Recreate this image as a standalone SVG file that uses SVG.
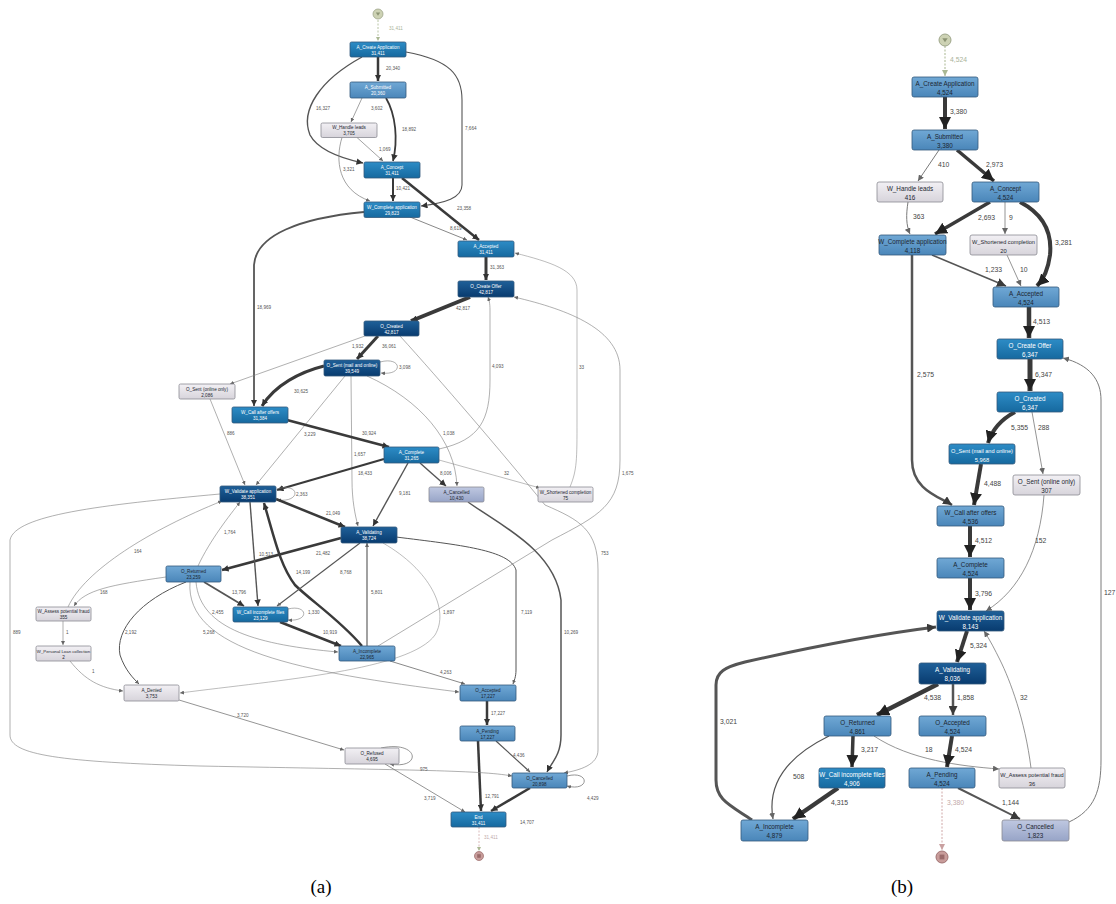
<svg xmlns="http://www.w3.org/2000/svg" width="1116" height="904" viewBox="0 0 1116 904">
<style>
text{font-family:"Liberation Sans",Arial,sans-serif}
.nd{stroke:#34597c;stroke-width:0.8}
.ndl{stroke:#8a8a92;stroke-width:0.8}
.dk{fill:url(#gDark)}.br{fill:url(#gBright)}.md{fill:url(#gMed)}.lt{fill:url(#gLight)}.lv{fill:url(#gLav)}
.ta{font-size:4.6px;text-anchor:middle}
.tb{font-size:6.3px;text-anchor:middle}
.w{fill:#ffffff}.k{fill:#1c2630}
.la{font-size:4.6px;fill:#555}
.lb{font-size:6.8px;fill:#444}
.e{fill:none;stroke:#7a7a7a}
.e1{fill:none;stroke:#555}
.e2{fill:none;stroke:#3a3a3a}
.dg{fill:none;stroke:#b8c4a4;stroke-dasharray:2,1.5}
.dp{fill:none;stroke:#d0a8a8;stroke-dasharray:2,1.5}
</style>
<defs>
<linearGradient id="gDark" x1="0" y1="0" x2="0" y2="1"><stop offset="0" stop-color="#1f6099"/><stop offset="1" stop-color="#083b6f"/></linearGradient>
<linearGradient id="gBright" x1="0" y1="0" x2="0" y2="1"><stop offset="0" stop-color="#2d8cc6"/><stop offset="1" stop-color="#16699f"/></linearGradient>
<linearGradient id="gMed" x1="0" y1="0" x2="0" y2="1"><stop offset="0" stop-color="#70a8d5"/><stop offset="1" stop-color="#4a86b9"/></linearGradient>
<linearGradient id="gLight" x1="0" y1="0" x2="0" y2="1"><stop offset="0" stop-color="#f2f0f4"/><stop offset="1" stop-color="#d7d4db"/></linearGradient>
<linearGradient id="gLav" x1="0" y1="0" x2="0" y2="1"><stop offset="0" stop-color="#bfc8e1"/><stop offset="1" stop-color="#97a4c7"/></linearGradient>
<marker id="a1" viewBox="0 0 10 10" refX="10" refY="5" markerWidth="4" markerHeight="4" markerUnits="userSpaceOnUse" orient="auto"><path d="M0,0L10,5L0,10z" fill="#666"/></marker>
<marker id="a2" viewBox="0 0 10 10" refX="10" refY="5" markerWidth="6.5" markerHeight="6.5" markerUnits="userSpaceOnUse" orient="auto"><path d="M0,0L10,5L0,10z" fill="#333"/></marker>
<marker id="b1" viewBox="0 0 10 10" refX="10" refY="5" markerWidth="6" markerHeight="6" markerUnits="userSpaceOnUse" orient="auto"><path d="M0,0L10,5L0,10z" fill="#666"/></marker>
<marker id="b2" viewBox="0 0 10 10" refX="10" refY="5" markerWidth="9" markerHeight="9" markerUnits="userSpaceOnUse" orient="auto"><path d="M0,0L10,5L0,10z" fill="#3a3a3a"/></marker>
<marker id="b3" viewBox="0 0 10 10" refX="10" refY="5" markerWidth="12" markerHeight="12" markerUnits="userSpaceOnUse" orient="auto"><path d="M0,0L10,5L0,10z" fill="#222"/></marker>
<marker id="ag" viewBox="0 0 10 10" refX="10" refY="5" markerWidth="4" markerHeight="4" markerUnits="userSpaceOnUse" orient="auto"><path d="M0,0L10,5L0,10z" fill="#aab894"/></marker>
<marker id="bg" viewBox="0 0 10 10" refX="10" refY="5" markerWidth="6" markerHeight="6" markerUnits="userSpaceOnUse" orient="auto"><path d="M0,0L10,5L0,10z" fill="#aab894"/></marker>
<marker id="bp" viewBox="0 0 10 10" refX="10" refY="5" markerWidth="6" markerHeight="6" markerUnits="userSpaceOnUse" orient="auto"><path d="M0,0L10,5L0,10z" fill="#c9a0a0"/></marker>
</defs>
<rect width="1116" height="904" fill="#ffffff"/>

<g id="connectors-a">
<path class="dg" d="M378,20 L378,41" marker-end="url(#ag)"/>
<text class="la" x="389" y="30" style="fill:#aab49a">31,411</text>
<path class="e2" stroke-width="2.5" d="M378,57 L378,81" marker-end="url(#a2)"/><text class="la" x="386" y="70">20,340</text>
<path class="e1" stroke-width="1.4" d="M362,57 C320,80 300,110 310,135 C318,150 340,158 363,163" marker-end="url(#a2)"/><text class="la" x="316" y="110">16,327</text>
<path class="e1" stroke-width="1.1" d="M406,52 C450,60 462,75 462,100 L462,185 C462,198 445,203 421,206" marker-end="url(#a2)"/><text class="la" x="465" y="130">7,664</text>
<path class="e" stroke-width="0.7" d="M362,98 L351,122" marker-end="url(#a1)"/><text class="la" x="371" y="110">3,602</text>
<path class="e2" stroke-width="1.8" d="M386,98 C396,115 398,140 393,161" marker-end="url(#a2)"/><text class="la" x="402" y="131">18,892</text>
<path class="e" stroke-width="0.7" d="M357,137.5 L383,161" marker-end="url(#a1)"/><text class="la" x="379" y="151">1,069</text>
<path class="e" stroke-width="0.7" d="M342,137.5 C335,160 338,190 370,201" marker-end="url(#a1)"/><text class="la" x="343" y="171">3,321</text>
<path class="e2" stroke-width="2" d="M393,178 L393,201" marker-end="url(#a2)"/><text class="la" x="396" y="190">10,421</text>
<path class="e2" stroke-width="2.5" d="M402,178 L479,240" marker-end="url(#a2)"/><text class="la" x="457" y="210">23,358</text>
<path class="e" stroke-width="0.9" d="M410,217 L467,240" marker-end="url(#a1)"/><text class="la" x="450" y="230">8,619</text>
<path class="e1" stroke-width="1.8" d="M364,212 C300,218 256,235 254,265 L254,406" marker-end="url(#a2)"/><text class="la" x="257" y="309">18,969</text>
<path class="e2" stroke-width="3" d="M486,257 L486,280" marker-end="url(#a2)"/><text class="la" x="490" y="269">31,363</text>
<path class="e2" stroke-width="4" d="M470,297 L411,321" marker-end="url(#a2)"/><text class="la" x="456" y="310">42,817</text>
<path class="e2" stroke-width="3" d="M378,336 L357,359" marker-end="url(#a2)"/><text class="la" x="382" y="348">36,061</text>
<path class="e" stroke-width="0.6" d="M365,336 L230,384" marker-end="url(#a1)"/><text class="la" x="352" y="348">1,932</text>
<path class="e" stroke-width="0.6" d="M400,336 C440,380 500,450 545,505 C580,520 598,530 598,570 L598,750 C598,765 580,770 564,773" marker-end="url(#a1)"/><text class="la" x="601" y="555">753</text>
<path class="e" stroke-width="0.6" d="M380,362 C402,356 404,376 381,373" marker-end="url(#a1)"/><text class="la" x="399" y="369">3,098</text>
<path class="e2" stroke-width="3" d="M324,366 C300,372 275,385 262,406" marker-end="url(#a2)"/><text class="la" x="294" y="393">30,625</text>
<path class="e" stroke-width="0.6" d="M345,376 L256,485" marker-end="url(#a1)"/><text class="la" x="304" y="436">3,229</text>
<path class="e" stroke-width="0.6" d="M351,376 L352,480 C352,500 355,515 358,526" marker-end="url(#a1)"/><text class="la" x="354" y="456">1,657</text>
<path class="e" stroke-width="0.6" d="M367,376 C420,400 455,440 457,486" marker-end="url(#a1)"/><text class="la" x="443" y="435">1,038</text>
<path class="e" stroke-width="0.6" d="M210,399 L245,485" marker-end="url(#a1)"/><text class="la" x="227" y="435">886</text>
<path class="e2" stroke-width="2.8" d="M287,420 L389,447" marker-end="url(#a2)"/><text class="la" x="362" y="435">30,924</text>
<path class="e" stroke-width="0.6" d="M439,449 C480,440 490,420 490,380 L490,310 C490,303 489,300 488,297" marker-end="url(#a1)"/><text class="la" x="492" y="368">4,093</text>
<path class="e2" stroke-width="2.2" d="M384,459 L277,490" marker-end="url(#a2)"/><text class="la" x="358" y="475">18,433</text>
<path class="e1" stroke-width="1.4" d="M408,463 L373,526" marker-end="url(#a2)"/><text class="la" x="399" y="495">9,181</text>
<path class="e1" stroke-width="1.4" d="M420,463 L446,486" marker-end="url(#a2)"/><text class="la" x="440" y="475">8,006</text>
<path class="e" stroke-width="0.5" d="M439,460 L540,488" marker-end="url(#a1)"/><text class="la" x="504" y="475">32</text>
<path class="e" stroke-width="0.5" d="M570,487 C577,470 577,460 577,420 L577,290 C577,270 550,262 515,253" marker-end="url(#a1)"/><text class="la" x="579" y="369">33</text>
<path class="e" stroke-width="0.6" d="M378,646 L552,540 C600,515 620,505 620,460 L620,370 C620,330 570,310 514,297" marker-end="url(#a1)"/><text class="la" x="622" y="475">1,675</text>
<path class="e" stroke-width="0.6" d="M277,489 C300,482 302,503 277,500" marker-end="url(#a1)"/><text class="la" x="296" y="496">2,363</text>
<path class="e2" stroke-width="2.5" d="M276,499 L345,527" marker-end="url(#a2)"/><text class="la" x="326" y="515">21,049</text>
<path class="e2" stroke-width="2.5" d="M341,538 L222,570" marker-end="url(#a2)"/><text class="la" x="316" y="555">21,482</text>
<path class="e1" stroke-width="1.4" d="M250,502 L258,606" marker-end="url(#a2)"/><text class="la" x="259" y="556">10,513</text>
<path class="e2" stroke-width="2.5" d="M362,646 C340,620 310,600 295,585 C280,565 275,540 264,503" marker-end="url(#a2)"/><text class="la" x="296" y="574">14,199</text>
<path class="e" stroke-width="0.6" d="M198,566 C210,540 230,515 240,502" marker-end="url(#a1)"/><text class="la" x="224" y="534">1,764</text>
<path class="e" stroke-width="0.6" d="M68,607 C85,570 150,530 222,501" marker-end="url(#a1)"/><text class="la" x="134" y="553">164</text>
<path class="e" stroke-width="0.6" d="M166,577 C110,585 85,590 74,606" marker-end="url(#a1)"/><text class="la" x="100" y="594">168</text>
<path class="e" stroke-width="0.6" d="M63,621 L63,645" marker-end="url(#a1)"/><text class="la" x="66" y="634">1</text>
<path class="e" stroke-width="0.6" d="M70,661 C85,680 100,688 123,691" marker-end="url(#a1)"/><text class="la" x="92" y="673">1</text>
<path class="e1" stroke-width="1" d="M186,582 C140,600 115,630 120,655 C125,670 133,678 139,684" marker-end="url(#a1)"/><text class="la" x="125" y="634">2,192</text>
<path class="e1" stroke-width="1.8" d="M204,582 L244,606" marker-end="url(#a2)"/><text class="la" x="232" y="594">13,796</text>
<path class="e" stroke-width="0.6" d="M196,582 C200,630 260,645 338,652" marker-end="url(#a1)"/><text class="la" x="212" y="614">2,455</text>
<path class="e" stroke-width="0.6" d="M190,582 C185,650 300,672 459,692" marker-end="url(#a1)"/><text class="la" x="203" y="634">5,268</text>
<path class="e" stroke-width="0.6" d="M288,609 C308,604 310,622 288,620" marker-end="url(#a1)"/><text class="la" x="308" y="614">1,330</text>
<path class="e2" stroke-width="2.5" d="M280,622 L341,646" marker-end="url(#a2)"/><text class="la" x="323" y="634">10,919</text>
<path class="e1" stroke-width="1.1" d="M367,646 L367,543" marker-end="url(#a1)"/><text class="la" x="371" y="594">5,801</text>
<path class="e" stroke-width="0.5" d="M383,543 C430,570 450,610 435,635 C410,670 280,680 180,693" marker-end="url(#a1)"/><text class="la" x="443" y="614">1,897</text>
<path class="e1" stroke-width="1.1" d="M360,543 L277,606" marker-end="url(#a1)"/><text class="la" x="340" y="574">8,768</text>
<path class="e1" stroke-width="1" d="M396,537 C460,545 510,550 516,570 L516,670 C516,677 514,681 513,684" marker-end="url(#a1)"/><text class="la" x="521" y="614">7,119</text>
<path class="e" stroke-width="0.9" d="M390,661 L465,684" marker-end="url(#a1)"/><text class="la" x="440" y="674">4,263</text>
<path class="e1" stroke-width="1.5" d="M468,502 C500,525 555,550 561,600 L561,735 C561,755 552,762 547,772" marker-end="url(#a2)"/><text class="la" x="564" y="634">10,269</text>
<path class="e2" stroke-width="2.5" d="M487,701 L487,725" marker-end="url(#a2)"/><text class="la" x="491" y="715">17,227</text>
<path class="e1" stroke-width="1.2" d="M496,741 L530,772" marker-end="url(#a1)"/><text class="la" x="513" y="757">4,436</text>
<path class="e2" stroke-width="2.5" d="M478,741 L481,811" marker-end="url(#a2)"/><text class="la" x="485" y="798">12,791</text>
<path class="e2" stroke-width="2.5" d="M530,788 L491,811" marker-end="url(#a2)"/><text class="la" x="520" y="824">14,707</text>
<path class="e" stroke-width="0.8" d="M567,776 C590,770 590,792 567,786" marker-end="url(#a1)"/><text class="la" x="587" y="800">4,429</text>
<path class="e" stroke-width="0.8" d="M381,748 C420,740 422,770 390,764" marker-end="url(#a1)"/><text class="la" x="420" y="771">975</text>
<path class="e" stroke-width="0.8" d="M179,700 L344,750" marker-end="url(#a1)"/><text class="la" x="237" y="717">3,720</text>
<path class="e" stroke-width="0.8" d="M385,764 L465,812" marker-end="url(#a1)"/><text class="la" x="424" y="800">3,719</text>
<path class="e" stroke-width="0.6" d="M220,494 C100,505 15,515 10,540 L10,735 C10,755 60,762 200,766 C400,770 480,770 512,776" marker-end="url(#a1)"/><text class="la" x="13" y="634">889</text>
<path class="dp" stroke-width="0.8" d="M479,827 L479,851" marker-end="url(#ag)"/><text class="la" x="484" y="839" style="fill:#c0aaaa">31,411</text>
</g>

<g id="connectors-b">
<path class="dg" stroke-width="1.2" d="M945,46 L945,76" marker-end="url(#bg)"/><text class="lb" x="950" y="62" style="fill:#a9b39a">4,524</text>
<path class="e2" stroke-width="4" d="M945,97 L945,129" marker-end="url(#b3)"/><text class="lb" x="950" y="114">3,380</text>
<path class="e" stroke-width="1" d="M939,150 L918,181" marker-end="url(#b1)"/><text class="lb" x="938" y="167">410</text>
<path class="e2" stroke-width="3.5" d="M957,150 L994,181" marker-end="url(#b3)"/><text class="lb" x="986" y="167">2,973</text>
<path class="e2" stroke-width="3.5" d="M990,202 L935,234" marker-end="url(#b3)"/><text class="lb" x="978" y="220">2,693</text>
<path class="e" stroke-width="0.8" d="M1005,202 L1005,234" marker-end="url(#b1)"/><text class="lb" x="1009" y="220">9</text>
<path class="e2" stroke-width="4" d="M1020,202 C1045,215 1052,235 1050,255 C1048,270 1043,280 1037,286" marker-end="url(#b3)"/><text class="lb" x="1055" y="245">3,281</text>
<path class="e" stroke-width="1" d="M908,202 C906,215 906,225 910,234" marker-end="url(#b1)"/><text class="lb" x="913" y="219">363</text>
<path class="e1" stroke-width="1.5" d="M932,255 L1006,286" marker-end="url(#b2)"/><text class="lb" x="985" y="272">1,233</text>
<path class="e" stroke-width="0.8" d="M1007,255 L1021,286" marker-end="url(#b1)"/><text class="lb" x="1020" y="272">10</text>
<path class="e2" stroke-width="4.5" d="M1029,307 L1029,338" marker-end="url(#b3)"/><text class="lb" x="1033" y="324">4,513</text>
<path class="e2" stroke-width="5" d="M1030,359 L1030,391" marker-end="url(#b3)"/><text class="lb" x="1035" y="377">6,347</text>
<path class="e2" stroke-width="4" d="M1015,412 C1000,420 992,430 988,443" marker-end="url(#b3)"/><text class="lb" x="1011" y="430">5,355</text>
<path class="e" stroke-width="0.8" d="M1032,412 L1043,474" marker-end="url(#b1)"/><text class="lb" x="1038" y="430">288</text>
<path class="e1" stroke-width="2.5" d="M912,255 L912,460 C912,490 940,497 952,505" marker-end="url(#b2)"/><text class="lb" x="917" y="377">2,575</text>
<path class="e2" stroke-width="4" d="M981,464 L974,505" marker-end="url(#b3)"/><text class="lb" x="984" y="486">4,488</text>
<path class="e2" stroke-width="4" d="M970,526 L970,557" marker-end="url(#b3)"/><text class="lb" x="975" y="543">4,512</text>
<path class="e2" stroke-width="4" d="M970,578 L970,610" marker-end="url(#b3)"/><text class="lb" x="975" y="596">3,796</text>
<path class="e" stroke-width="0.8" d="M1044,495 C1040,550 1020,590 986,611" marker-end="url(#b1)"/><text class="lb" x="1035" y="543">152</text>
<path class="e2" stroke-width="4" d="M967,631 L957,662" marker-end="url(#b3)"/><text class="lb" x="970" y="648">5,324</text>
<path class="e2" stroke-width="4.5" d="M938,684 L877,715" marker-end="url(#b3)"/><text class="lb" x="924" y="700">4,538</text>
<path class="e1" stroke-width="2.5" d="M953,684 L953,715" marker-end="url(#b2)"/><text class="lb" x="957" y="700">1,858</text>
<path class="e2" stroke-width="3.5" d="M853,736 L852,767" marker-end="url(#b3)"/><text class="lb" x="861" y="752">3,217</text>
<path class="e" stroke-width="0.8" d="M874,736 C910,760 960,766 999,769" marker-end="url(#b1)"/><text class="lb" x="925" y="752">18</text>
<path class="e1" stroke-width="1.2" d="M829,736 C780,760 768,790 773,819" marker-end="url(#b1)"/><text class="lb" x="793" y="779">508</text>
<path class="e2" stroke-width="4" d="M952,736 L947,767" marker-end="url(#b3)"/><text class="lb" x="955" y="752">4,524</text>
<path class="e2" stroke-width="4.5" d="M838,788 L793,819" marker-end="url(#b3)"/><text class="lb" x="831" y="805">4,315</text>
<path class="e1" stroke-width="2" d="M958,788 L1020,819" marker-end="url(#b2)"/><text class="lb" x="1002" y="805">1,144</text>
<path class="dp" stroke-width="1" d="M942,788 L942,850" marker-end="url(#bp)"/><text class="lb" x="947" y="805" style="fill:#c4aaaa">3,380</text>
<path class="e" stroke-width="0.8" d="M1031,768 C1025,720 1010,680 1000,660 C995,650 990,640 984,631" marker-end="url(#b1)"/><text class="lb" x="1020" y="700">32</text>
<path class="e1" stroke-width="3" d="M752,820 C730,805 716,800 716,780 L716,685 C716,672 725,667 745,662 C820,645 880,634 936,627" marker-end="url(#b2)"/><text class="lb" x="720" y="724">3,021</text>
<path class="e" stroke-width="1" d="M1069,822 C1095,810 1101,790 1101,760 L1101,400 C1101,380 1090,365 1063,358" marker-end="url(#b1)"/><text class="lb" x="1104" y="595">127</text>
</g>

<g id="a-start"><circle cx="378" cy="14" r="5" fill="#cdd2b4" stroke="#9ea68a" stroke-width="0.8"/><path d="M375.8,12.5 L380.2,12.5 L378,15.8 z" fill="#8c9474"/></g>
<g id="a-end"><circle cx="479" cy="856" r="4.5" fill="#c89c9a" stroke="#a07272" stroke-width="0.8"/><rect x="477.2" y="854.2" width="3.6" height="3.6" fill="#9a6a6a"/></g>

<g id="a-A_Create_Application"><rect class="nd br" x="350" y="42" width="56" height="15" rx="1.5"/><text class="ta w" x="378" y="48.5">A_Create Application</text><text class="ta w" x="378" y="54.8">31,411</text></g>
<g id="a-A_Submitted"><rect class="nd md" x="350" y="82" width="56" height="16" rx="1.5"/><text class="ta w" x="378" y="88.8">A_Submitted</text><text class="ta w" x="378" y="95.3">20,360</text></g>
<g id="a-W_Handle_leads"><rect class="ndl lt" x="321" y="123" width="56" height="14.5" rx="1.5"/><text class="ta k" x="349" y="129.2">W_Handle leads</text><text class="ta k" x="349" y="135.3">3,705</text></g>
<g id="a-A_Concept"><rect class="nd br" x="364" y="162" width="56" height="16" rx="1.5"/><text class="ta w" x="392" y="168.8">A_Concept</text><text class="ta w" x="392" y="175.3">31,411</text></g>
<g id="a-W_Complete_application"><rect class="nd br" x="364" y="202" width="56" height="15.5" rx="1.5"/><text class="ta w" x="392" y="208.6">W_Complete application</text><text class="ta w" x="392" y="215">29,823</text></g>
<g id="a-A_Accepted"><rect class="nd br" x="458" y="241" width="56" height="16" rx="1.5"/><text class="ta w" x="486" y="247.8">A_Accepted</text><text class="ta w" x="486" y="254.3">31,411</text></g>
<g id="a-O_Create_Offer"><rect class="nd dk" x="458" y="281" width="56" height="16" rx="1.5"/><text class="ta w" x="486" y="287.8">O_Create Offer</text><text class="ta w" x="486" y="294.3">42,817</text></g>
<g id="a-O_Created"><rect class="nd dk" x="364" y="321" width="55" height="15" rx="1.5"/><text class="ta w" x="391.5" y="327.5">O_Created</text><text class="ta w" x="391.5" y="333.8">42,817</text></g>
<g id="a-O_Sent_mail"><rect class="nd dk" x="324" y="360" width="56" height="16" rx="1.5"/><text class="ta w" x="352" y="366.8">O_Sent (mail and online)</text><text class="ta w" x="352" y="373.3">39,549</text></g>
<g id="a-O_Sent_online"><rect class="ndl lt" x="179" y="384" width="56" height="15" rx="1.5"/><text class="ta k" x="207" y="390.5">O_Sent (online only)</text><text class="ta k" x="207" y="396.8">2,086</text></g>
<g id="a-W_Call_after_offers"><rect class="nd br" x="232" y="407" width="56" height="16" rx="1.5"/><text class="ta w" x="260" y="413.8">W_Call after offers</text><text class="ta w" x="260" y="420.3">31,384</text></g>
<g id="a-A_Complete"><rect class="nd br" x="384" y="447" width="55" height="16" rx="1.5"/><text class="ta w" x="411.5" y="453.8">A_Complete</text><text class="ta w" x="411.5" y="460.3">31,265</text></g>
<g id="a-A_Cancelled"><rect class="ndl lv" x="429" y="487" width="55" height="15" rx="1.5"/><text class="ta k" x="456.5" y="493.5">A_Cancelled</text><text class="ta k" x="456.5" y="499.8">10,430</text></g>
<g id="a-W_Shortened_completion"><rect class="ndl lt" x="538" y="487" width="55" height="15" rx="1.5"/><text class="ta k" x="565.5" y="493.5">W_Shortened completion</text><text class="ta k" x="565.5" y="499.8">75</text></g>
<g id="a-W_Validate_application"><rect class="nd dk" x="220" y="486" width="56" height="16" rx="1.5"/><text class="ta w" x="248" y="492.8">W_Validate application</text><text class="ta w" x="248" y="499.3">38,351</text></g>
<g id="a-A_Validating"><rect class="nd dk" x="341" y="527" width="56" height="16" rx="1.5"/><text class="ta w" x="369" y="533.8">A_Validating</text><text class="ta w" x="369" y="540.3">38,724</text></g>
<g id="a-O_Returned"><rect class="nd md" x="166" y="566" width="55" height="16" rx="1.5"/><text class="ta k" x="193.5" y="572.8">O_Returned</text><text class="ta k" x="193.5" y="579.3">23,259</text></g>
<g id="a-W_Call_incomplete_files"><rect class="nd br" x="233" y="607" width="55" height="15" rx="1.5"/><text class="ta w" x="260.5" y="613.5">W_Call incomplete files</text><text class="ta w" x="260.5" y="619.8">23,129</text></g>
<g id="a-A_Incomplete"><rect class="nd md" x="339" y="646" width="56" height="15" rx="1.5"/><text class="ta k" x="367" y="652.5">A_Incomplete</text><text class="ta k" x="367" y="658.8">22,965</text></g>
<g id="a-W_Assess_potential_fraud"><rect class="ndl lt" x="36" y="607" width="55" height="14" rx="1.5"/><text class="ta k" x="63.5" y="613">W_Assess potential fraud</text><text class="ta k" x="63.5" y="619">355</text></g>
<g id="a-W_Personal_Loan_collection"><rect class="ndl lt" x="36" y="646" width="55" height="15" rx="1.5"/><text class="ta k" x="63.5" y="652.5" style="font-size:4.3px">W_Personal Loan collection</text><text class="ta k" x="63.5" y="658.8">2</text></g>
<g id="a-A_Denied"><rect class="ndl lt" x="124" y="685" width="55" height="16" rx="1.5"/><text class="ta k" x="151.5" y="691.8">A_Denied</text><text class="ta k" x="151.5" y="698.3">3,753</text></g>
<g id="a-O_Accepted"><rect class="nd md" x="460" y="685" width="56" height="16" rx="1.5"/><text class="ta k" x="488" y="691.8">O_Accepted</text><text class="ta k" x="488" y="698.3">17,227</text></g>
<g id="a-A_Pending"><rect class="nd md" x="460" y="726" width="55" height="15" rx="1.5"/><text class="ta k" x="487.5" y="732.5">A_Pending</text><text class="ta k" x="487.5" y="738.8">17,227</text></g>
<g id="a-O_Refused"><rect class="ndl lt" x="345" y="748" width="54" height="16" rx="1.5"/><text class="ta k" x="372" y="754.8">O_Refused</text><text class="ta k" x="372" y="761.3">4,695</text></g>
<g id="a-O_Cancelled"><rect class="nd md" x="512" y="773" width="55" height="15" rx="1.5"/><text class="ta k" x="539.5" y="779.5">O_Cancelled</text><text class="ta k" x="539.5" y="785.8">20,898</text></g>
<g id="a-End"><rect class="nd br" x="451" y="812" width="55" height="15" rx="1.5"/><text class="ta w" x="478.5" y="818.5">End</text><text class="ta w" x="478.5" y="824.8">31,411</text></g>

<g id="b-start"><circle cx="945" cy="40" r="6" fill="#cdd2b4" stroke="#9ea68a" stroke-width="1"/><path d="M942.3,38.2 L947.7,38.2 L945,42.2 z" fill="#8c9474"/></g>
<g id="b-end"><circle cx="942" cy="857" r="6" fill="#c89c9a" stroke="#a07272" stroke-width="1"/><rect x="939.6" y="854.6" width="4.8" height="4.8" fill="#9a6a6a"/></g>

<g id="b-A_Create_Application"><rect class="nd md" x="912" y="77" width="66" height="20" rx="2"/><text class="tb k" x="945" y="86">A_Create Application</text><text class="tb k" x="945" y="94.5">4,524</text></g>
<g id="b-A_Submitted"><rect class="nd md" x="912" y="130" width="66" height="20" rx="2"/><text class="tb k" x="945" y="139">A_Submitted</text><text class="tb k" x="945" y="147.5">3,380</text></g>
<g id="b-W_Handle_leads"><rect class="ndl lt" x="877" y="182" width="66" height="20" rx="2"/><text class="tb k" x="910" y="191">W_Handle leads</text><text class="tb k" x="910" y="199.5">416</text></g>
<g id="b-A_Concept"><rect class="nd md" x="972" y="182" width="67" height="20" rx="2"/><text class="tb k" x="1005.5" y="191">A_Concept</text><text class="tb k" x="1005.5" y="199.5">4,524</text></g>
<g id="b-W_Complete_application"><rect class="nd md" x="879" y="235" width="67" height="20" rx="2"/><text class="tb k" x="912.5" y="244">W_Complete application</text><text class="tb k" x="912.5" y="252.5">4,118</text></g>
<g id="b-W_Shortened_completion"><rect class="ndl lt" x="970" y="235" width="67" height="20" rx="2"/><text class="tb k" x="1003.5" y="244" style="font-size:5.6px">W_Shortened completion</text><text class="tb k" x="1003.5" y="252.5" style="font-size:5.8px">20</text></g>
<g id="b-A_Accepted"><rect class="nd md" x="993" y="287" width="66" height="20" rx="2"/><text class="tb k" x="1026" y="296">A_Accepted</text><text class="tb k" x="1026" y="304.5">4,524</text></g>
<g id="b-O_Create_Offer"><rect class="nd br" x="997" y="339" width="66" height="20" rx="2"/><text class="tb w" x="1030" y="348">O_Create Offer</text><text class="tb w" x="1030" y="356.5">6,347</text></g>
<g id="b-O_Created"><rect class="nd br" x="997" y="392" width="66" height="20" rx="2"/><text class="tb w" x="1030" y="401">O_Created</text><text class="tb w" x="1030" y="409.5">6,347</text></g>
<g id="b-O_Sent_mail"><rect class="nd br" x="949" y="444" width="66" height="20" rx="2"/><text class="tb w" x="982" y="453" style="font-size:5.6px">O_Sent (mail and online)</text><text class="tb w" x="982" y="461.5" style="font-size:5.8px">5,968</text></g>
<g id="b-O_Sent_online"><rect class="ndl lt" x="1013" y="475" width="67" height="20" rx="2"/><text class="tb k" x="1046.5" y="484">O_Sent (online only)</text><text class="tb k" x="1046.5" y="492.5">307</text></g>
<g id="b-W_Call_after_offers"><rect class="nd md" x="937" y="506" width="67" height="20" rx="2"/><text class="tb k" x="970.5" y="515">W_Call after offers</text><text class="tb k" x="970.5" y="523.5">4,536</text></g>
<g id="b-A_Complete"><rect class="nd md" x="937" y="558" width="67" height="20" rx="2"/><text class="tb k" x="970.5" y="567">A_Complete</text><text class="tb k" x="970.5" y="575.5">4,524</text></g>
<g id="b-W_Validate_application"><rect class="nd dk" x="937" y="611" width="67" height="20" rx="2"/><text class="tb w" x="970.5" y="620">W_Validate application</text><text class="tb w" x="970.5" y="628.5">8,143</text></g>
<g id="b-A_Validating"><rect class="nd dk" x="919" y="663" width="67" height="21" rx="2"/><text class="tb w" x="952.5" y="672">A_Validating</text><text class="tb w" x="952.5" y="681">8,036</text></g>
<g id="b-O_Returned"><rect class="nd md" x="824" y="716" width="67" height="20" rx="2"/><text class="tb k" x="857.5" y="725">O_Returned</text><text class="tb k" x="857.5" y="733.5">4,861</text></g>
<g id="b-O_Accepted"><rect class="nd md" x="919" y="716" width="67" height="20" rx="2"/><text class="tb k" x="952.5" y="725">O_Accepted</text><text class="tb k" x="952.5" y="733.5">4,524</text></g>
<g id="b-W_Call_incomplete_files"><rect class="nd br" x="819" y="768" width="66" height="20" rx="2"/><text class="tb w" x="852" y="777">W_Call incomplete files</text><text class="tb w" x="852" y="785.5">4,906</text></g>
<g id="b-A_Pending"><rect class="nd md" x="909" y="768" width="66" height="20" rx="2"/><text class="tb k" x="942" y="777">A_Pending</text><text class="tb k" x="942" y="785.5">4,524</text></g>
<g id="b-W_Assess_potential_fraud"><rect class="ndl lt" x="999" y="768" width="66" height="20" rx="2"/><text class="tb k" x="1032" y="777" style="font-size:5.6px">W_Assess potential fraud</text><text class="tb k" x="1032" y="785.5" style="font-size:5.8px">36</text></g>
<g id="b-A_Incomplete"><rect class="nd md" x="741" y="820" width="67" height="21" rx="2"/><text class="tb k" x="774.5" y="829">A_Incomplete</text><text class="tb k" x="774.5" y="838">4,879</text></g>
<g id="b-O_Cancelled"><rect class="ndl lv" x="1002" y="820" width="67" height="21" rx="2"/><text class="tb k" x="1035.5" y="829">O_Cancelled</text><text class="tb k" x="1035.5" y="838">1,823</text></g>

<g id="captions">
<text x="321" y="893" font-size="19" text-anchor="middle" style="font-family:'Liberation Serif','Times New Roman',serif">(a)</text>
<text x="902" y="893" font-size="19" text-anchor="middle" style="font-family:'Liberation Serif','Times New Roman',serif">(b)</text>
</g>
</svg>
